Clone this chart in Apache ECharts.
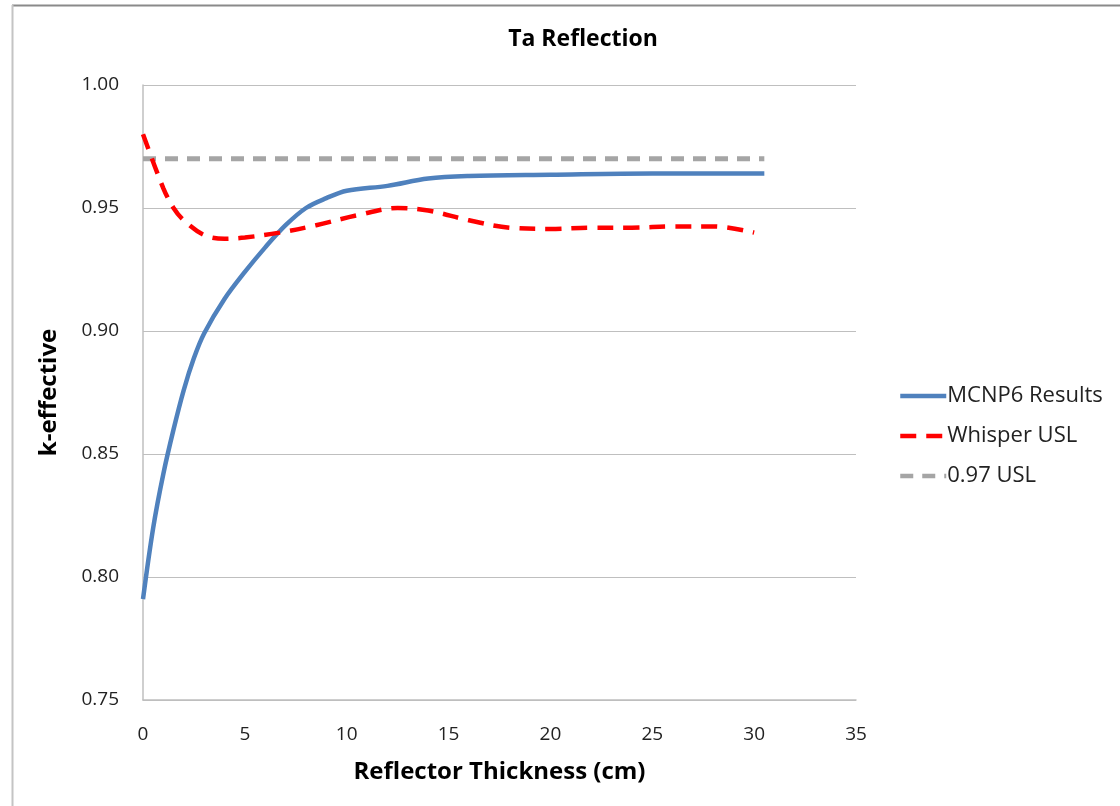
<!DOCTYPE html>
<html>
<head>
<meta charset="utf-8">
<script src="https://cdn.jsdelivr.net/npm/echarts@6/dist/echarts.min.js"></script>
<style>
html,body{margin:0;padding:0;background:#fff;}
#chart{width:1120px;height:806px;}
</style>
</head>
<body>
<div id="chart"></div>
<script>
// Data
const mcnpX = [0, 0.5, 1, 1.5, 2, 2.5, 3, 4, 5, 6, 7, 8, 9, 10, 12, 14, 16, 20, 25, 30.5];
const mcnpY = [0.791, 0.820, 0.842, 0.860, 0.876, 0.889, 0.899, 0.913, 0.924, 0.934, 0.943, 0.950, 0.954, 0.957, 0.959, 0.962, 0.963, 0.9635, 0.964, 0.964];
const whisperX = [0, 1, 1.5, 2, 3, 4, 5, 6.7, 8.5, 10.5, 12.5, 14, 16, 18, 20, 22, 24, 26, 28, 30];
const whisperY = [0.980, 0.958, 0.950, 0.945, 0.939, 0.9375, 0.938, 0.940, 0.943, 0.947, 0.950, 0.949, 0.945, 0.942, 0.9415, 0.942, 0.942, 0.9425, 0.9425, 0.940];
const uslX = [0, 30.5];
const uslY = [0.97, 0.97];
const seriesNames = ['MCNP6 Results', 'Whisper USL', '0.97 USL'];
const xTicks = {min: 0, max: 35, interval: 5};
const yTicks = {min: 0.75, max: 1.0, interval: 0.05};

const zip = (a, b) => a.map((v, i) => [v, b[i]]);
const font = '"Open Sans", "Noto Sans", sans-serif';

const chart = echarts.init(document.getElementById('chart'));
chart.setOption({
  animation: false,
  backgroundColor: '#fff',
  title: {
    text: 'Ta Reflection',
    left: 578, top: 23, textAlign: 'center',
    textStyle: {fontFamily: font, fontSize: 23, fontWeight: 'bold', color: '#000'}
  },
  grid: {left: 143, right: 264, top: 85, bottom: 106},
  legend: {
    orient: 'vertical', left: 893, top: 380, itemGap: 18,
    itemWidth: 46, itemHeight: 14,
    data: seriesNames,
    itemStyle: {opacity: 0},
    lineStyle: {width: 4.5},
    textStyle: {fontFamily: font, fontSize: 22, color: '#222', padding: [0, 0, 0, -4]}
  },
  xAxis: {
    type: 'value', min: xTicks.min, max: xTicks.max, interval: xTicks.interval,
    name: 'Reflector Thickness (cm)', nameLocation: 'middle', nameGap: 60,
    nameTextStyle: {fontFamily: font, fontSize: 24, fontWeight: 'bold', color: '#000'},
    axisLine: {show: true, lineStyle: {color: '#bfbfbf', width: 1.5}},
    axisTick: {show: false},
    splitLine: {show: false},
    axisLabel: {fontFamily: font, fontSize: 19, color: '#222', margin: 25}
  },
  yAxis: {
    type: 'value', min: yTicks.min, max: yTicks.max, interval: yTicks.interval,
    name: 'k-effective', nameLocation: 'middle', nameGap: 82, nameRotate: 90,
    nameTextStyle: {fontFamily: font, fontSize: 24, fontWeight: 'bold', color: '#000'},
    axisLine: {show: true, lineStyle: {color: '#bfbfbf', width: 1.5}},
    axisTick: {show: false},
    splitLine: {show: true, lineStyle: {color: '#bfbfbf', width: 1.2}},
    axisLabel: {fontFamily: font, fontSize: 19, color: '#222', margin: 24,
      formatter: v => v.toFixed(2)}
  },
  graphic: [
    {type: 'line', shape: {x1: 12, y1: 5.5, x2: 1120, y2: 5.5}, style: {stroke: '#8a8a8a', lineWidth: 2}},
    {type: 'line', shape: {x1: 12.5, y1: 5, x2: 12.5, y2: 806}, style: {stroke: '#c4c4c4', lineWidth: 2}}
  ],
  series: [
    {
      name: seriesNames[0], type: 'line', data: zip(mcnpX, mcnpY),
      smooth: 0.35, showSymbol: false, symbol: 'none',
      lineStyle: {color: '#4f81bd', width: 4.5}, itemStyle: {color: '#4f81bd'}, z: 3
    },
    {
      name: seriesNames[1], type: 'line', data: zip(whisperX, whisperY),
      smooth: 0.35, showSymbol: false, symbol: 'none',
      lineStyle: {color: '#ff0000', width: 4.5, type: [16, 10]}, itemStyle: {color: '#ff0000'}, z: 4
    },
    {
      name: seriesNames[2], type: 'line', data: zip(uslX, uslY),
      showSymbol: false, symbol: 'none',
      lineStyle: {color: '#a5a5a5', width: 5, type: [13, 9]}, itemStyle: {color: '#a5a5a5'}, z: 2
    }
  ]
});
</script>
</body>
</html>
